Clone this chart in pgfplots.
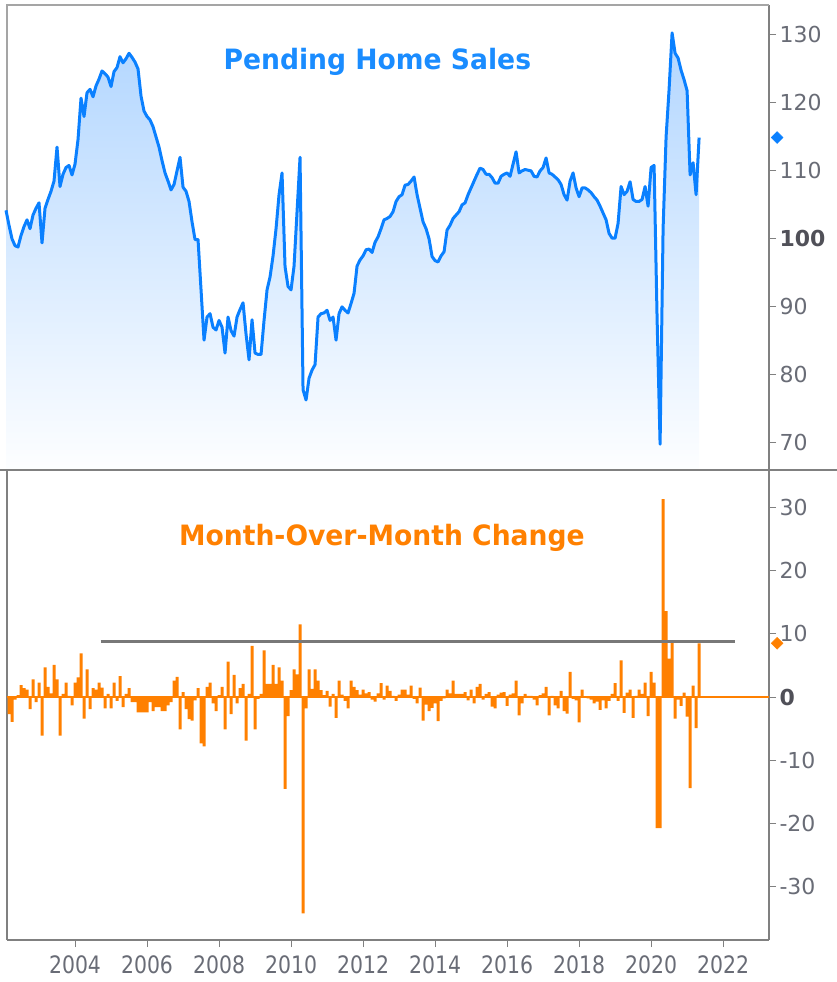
\documentclass[border=0pt]{standalone}
\usepackage{fontspec}
\setmainfont{DejaVu Sans}
\newfontfamily\titlefont[FakeStretch=0.95]{DejaVu Sans}
\newfontfamily\condfont[FakeStretch=0.85]{DejaVu Sans}
\usepackage{pgfplots}
\usepackage{pgfplotstable}
\pgfplotsset{compat=1.18}
\definecolor{lineblue}{RGB}{10,128,255}
\definecolor{titleblue}{RGB}{26,140,255}
\definecolor{barorange}{RGB}{255,128,0}
\definecolor{ticklab}{RGB}{105,108,118}
\definecolor{boldlab}{RGB}{80,80,88}
\definecolor{axgray}{RGB}{128,128,128}
\definecolor{framegray}{RGB}{165,165,165}
\definecolor{fillTop}{RGB}{178,214,255}
\definecolor{fillBot}{RGB}{253,254,255}

% Pending Home Sales index, month index i (0 = Jan 2002)
\pgfplotstableread[row sep=\\]{
i v\\
1 104.2\\ 2 102\\ 3 100\\ 4 99\\ 5 98.8\\ 6 100.5\\ 7 101.8\\ 8 102.8\\ 9 101.5\\ 10 103.5\\ 11 104.5\\
12 105.3\\ 13 99.4\\ 14 104.5\\ 15 105.8\\ 16 107\\ 17 108.5\\ 18 113.5\\ 19 107.7\\ 20 109.5\\ 21 110.5\\ 22 110.8\\ 23 109.4\\
24 111\\ 25 114.6\\ 26 120.7\\ 27 118\\ 28 121.5\\ 29 122\\ 30 120.9\\ 31 122.5\\ 32 123.5\\ 33 124.7\\ 34 124.3\\ 35 123.8\\
36 122.4\\ 37 124.6\\ 38 125.2\\ 39 126.8\\ 40 125.9\\ 41 126.5\\ 42 127.3\\ 43 126.7\\ 44 126\\ 45 125\\ 46 121\\ 47 118.8\\
48 118\\ 49 117.5\\ 50 116.5\\ 51 115\\ 52 113.5\\ 53 111.5\\ 54 109.7\\ 55 108.5\\ 56 107.2\\ 57 108\\ 58 110\\ 59 112\\
60 107.6\\ 61 107\\ 62 105.5\\ 63 102.5\\ 64 99.9\\ 65 99.9\\ 66 92.5\\ 67 85.1\\ 68 88.5\\ 69 89\\ 70 87\\ 71 86.6\\
72 88\\ 73 87\\ 74 83.2\\ 75 88.5\\ 76 86.5\\ 77 85.7\\ 78 88.5\\ 79 89.6\\ 80 90.6\\ 81 86\\ 82 82.2\\ 83 88.1\\
84 83.2\\ 85 83\\ 86 83\\ 87 88\\ 88 92.5\\ 89 94.4\\ 90 97.5\\ 91 101.5\\ 92 106.5\\ 93 109.7\\ 94 95.9\\ 95 93\\
96 92.5\\ 97 96\\ 98 104\\ 99 112\\ 100 77.8\\ 101 76.3\\ 102 79.5\\ 103 80.7\\ 104 81.5\\ 105 88.5\\ 106 89\\ 107 89.1\\
108 89.5\\ 109 88\\ 110 88.5\\ 111 85.1\\ 112 89\\ 113 90\\ 114 89.5\\ 115 89.1\\ 116 90.5\\ 117 92\\ 118 96\\ 119 96.9\\
120 97.5\\ 121 98.4\\ 122 98.5\\ 123 98\\ 124 99.5\\ 125 100.3\\ 126 101.5\\ 127 102.8\\ 128 103\\ 129 103.3\\ 130 104\\ 131 105.5\\
132 106.2\\ 133 106.5\\ 134 107.9\\ 135 108\\ 136 108.5\\ 137 109.1\\ 138 106.5\\ 139 104.5\\ 140 102.5\\ 141 101.5\\ 142 100\\ 143 97.4\\
144 96.8\\ 145 96.6\\ 146 97.5\\ 147 98.1\\ 148 101.3\\ 149 102\\ 150 103\\ 151 103.5\\ 152 104\\ 153 105\\ 154 105.3\\ 155 106.5\\
156 107.5\\ 157 108.5\\ 158 109.5\\ 159 110.4\\ 160 110.2\\ 161 109.5\\ 162 109.5\\ 163 109\\ 164 108.2\\ 165 108.2\\ 166 109.2\\ 167 109.5\\
168 109.7\\ 169 109.2\\ 170 111\\ 171 112.8\\ 172 109.7\\ 173 110\\ 174 110.2\\ 175 110.1\\ 176 110\\ 177 109.2\\ 178 109.1\\ 179 110\\
180 110.5\\ 181 111.9\\ 182 109.7\\ 183 109.5\\ 184 109.1\\ 185 108.7\\ 186 108\\ 187 106.5\\ 188 105.7\\ 189 108.5\\ 190 109.7\\ 191 107.5\\
192 106.2\\ 193 107.5\\ 194 107.5\\ 195 107.2\\ 196 106.8\\ 197 106.2\\ 198 105.7\\ 199 104.8\\ 200 103.8\\ 201 102.8\\ 202 100.8\\ 203 100.1\\
204 100.1\\ 205 102.3\\ 206 107.7\\ 207 106.5\\ 208 107\\ 209 108.4\\ 210 105.8\\ 211 105.5\\ 212 105.5\\ 213 105.8\\ 214 107.7\\ 215 104.8\\
216 110.5\\ 217 110.8\\ 218 88.3\\ 219 69.8\\ 220 101.5\\ 221 115\\ 222 122\\ 223 130.3\\ 224 127.3\\ 225 126.6\\ 226 124.8\\ 227 123.4\\
228 121.8\\ 229 109.4\\ 230 111.2\\ 231 106.5\\ 232 114.9\\
}\hsdata

% Month-over-month change (%)
\pgfplotstableread[row sep=\\]{
i v\\
2 -2.7\\ 3 -3.9\\ 4 -0.4\\ 5 0.3\\ 6 1.9\\ 7 1.4\\ 8 1.2\\ 9 -1.9\\ 10 2.8\\ 11 -0.8\\
12 2.3\\ 13 -6.1\\ 14 4.7\\ 15 1.6\\ 16 0.6\\ 17 5.1\\ 18 2.8\\ 19 -6.1\\ 20 0.5\\ 21 2.3\\ 22 0.2\\ 23 -1.3\\
24 2.3\\ 25 3.1\\ 26 6.9\\ 27 -3.4\\ 28 4.4\\ 29 -1.9\\ 30 1.4\\ 31 1.2\\ 32 2.3\\ 33 1.5\\ 34 -1.8\\ 35 0.5\\
36 -1.8\\ 37 2.3\\ 38 -0.6\\ 39 3.3\\ 40 -1.6\\ 41 0.5\\ 42 1.4\\ 43 -0.8\\ 44 -0.8\\ 45 -2.4\\ 46 -2.4\\ 47 -2.4\\
48 -2.4\\ 49 -0.8\\ 50 -2.2\\ 51 -1.6\\ 52 -1.6\\ 53 -2.2\\ 54 -2.2\\ 55 -1.3\\ 56 -0.8\\ 57 2.6\\ 58 3.2\\ 59 -5.1\\
60 0.8\\ 61 -1.9\\ 62 -3.5\\ 63 -3.7\\ 64 -0.5\\ 65 1.4\\ 66 -7.3\\ 67 -7.8\\ 68 1.6\\ 69 2.3\\ 70 -1.0\\ 71 -2.2\\
72 0.3\\ 73 1.6\\ 74 -5.1\\ 75 5.6\\ 76 -2.7\\ 77 3.5\\ 78 -1.0\\ 79 1.4\\ 80 2.1\\ 81 -6.9\\ 82 0.5\\ 83 8.1\\
84 -5.1\\ 85 -0.3\\ 86 0.5\\ 87 7.4\\ 88 2.1\\ 89 2.1\\ 90 5.1\\ 91 2.1\\ 92 4.7\\ 93 2.6\\ 94 -14.5\\ 95 -3.0\\
96 1.1\\ 97 4.4\\ 98 3.6\\ 99 11.5\\ 100 -34.2\\ 101 -1.8\\ 102 4.4\\ 103 1.3\\ 104 4.4\\ 105 2.6\\ 106 1.1\\ 107 0.3\\
108 1.0\\ 109 -1.5\\ 110 0.5\\ 111 -3.3\\ 112 2.6\\ 113 0.4\\ 114 -0.6\\ 115 -1.8\\ 116 2.6\\ 117 1.6\\ 118 1.1\\ 119 0.4\\
120 1.2\\ 121 0.6\\ 122 0.8\\ 123 -0.4\\ 124 -0.7\\ 125 0.6\\ 126 2.2\\ 127 -0.4\\ 128 1.8\\ 129 1.0\\ 130 0.2\\ 131 -0.6\\
132 0.4\\ 133 1.2\\ 134 1.2\\ 135 0.4\\ 136 1.8\\ 137 -0.3\\ 138 -1.0\\ 139 1.5\\ 140 -3.7\\ 141 -1.2\\ 142 -2.2\\ 143 -1.7\\
144 -1.0\\ 145 -3.8\\ 146 -0.6\\ 147 -0.2\\ 148 1.2\\ 149 0.6\\ 150 2.6\\ 151 0.5\\ 152 0.5\\ 153 0.5\\ 154 0.8\\ 155 -0.5\\
156 1.2\\ 157 -1.0\\ 158 1.6\\ 159 2.1\\ 160 -0.4\\ 161 0.5\\ 162 0.8\\ 163 -1.5\\ 164 -1.8\\ 165 0.4\\ 166 0.7\\ 167 0.8\\
168 -1.4\\ 169 0.4\\ 170 0.6\\ 171 2.6\\ 172 -2.9\\ 173 -1.0\\ 174 0.5\\ 175 0.2\\ 176 0.2\\ 177 -0.4\\ 178 -1.3\\ 179 0.3\\
180 0.6\\ 181 1.6\\ 182 -2.9\\ 183 0.2\\ 184 -1.3\\ 185 -1.8\\ 186 1.0\\ 187 -2.2\\ 188 -2.6\\ 189 4.0\\ 190 -0.3\\ 191 -0.5\\
192 -4.0\\ 193 1.2\\ 194 0\\ 195 -0.2\\ 196 -0.4\\ 197 -1.0\\ 198 -0.7\\ 199 -2.0\\ 200 -0.5\\ 201 -1.8\\ 202 -0.6\\ 203 0.5\\
204 2.2\\ 205 -0.6\\ 206 5.8\\ 207 -2.5\\ 208 0.7\\ 209 1.2\\ 210 -3.3\\ 211 0.2\\ 212 1.2\\ 213 0.5\\ 214 2.3\\ 215 -3.0\\
216 4.0\\ 217 2.3\\ 218 -20.7\\ 219 -20.7\\ 220 31.3\\ 221 13.6\\ 222 6.1\\ 223 9.0\\ 224 -3.4\\ 225 -0.4\\ 226 -1.4\\ 227 0.7\\
228 -3.1\\ 229 -14.4\\ 230 1.8\\ 231 -4.9\\ 232 8.5\\
}\momdata

\begin{document}
\begin{tikzpicture}
\path[use as bounding box] (0pt,0pt) rectangle (837pt,-982pt);

% ---------------- top panel ----------------
\begin{axis}[
  name=top,
  at={(7pt,-5pt)}, anchor=north west,
  scale only axis, width=762pt, height=465pt,
  xmin=1.33, xmax=255.3, ymin=66, ymax=134.4,
  axis x line=none, axis y line*=right,
  axis line style={axgray, line width=1.3pt},
  ytick={70,80,90,100,110,120,130},
  yticklabels={70,80,90,{\color{boldlab}\bfseries 100},110,120,130},
  tick align=outside, major tick length=7pt,
  tick style={axgray, line width=1pt},
  yticklabel style={font=\fontsize{22}{24}\selectfont, text=ticklab},
  clip=false,
]
\draw[framegray, line width=1.2pt] (rel axis cs:0,0) -- (rel axis cs:0,1) -- (rel axis cs:1,1);
\addplot[top color=fillTop, bottom color=fillBot, draw=none] table[x=i, y=v] {\hsdata} -- (axis cs:232,66) -- (axis cs:1,66) -- cycle;
\addplot[lineblue, line width=3pt, line join=round] table[x=i, y=v] {\hsdata};
\addplot[only marks, mark=square*, color=lineblue, mark options={scale=2.1, rotate=45, fill=lineblue, draw=lineblue}] coordinates {(258,114.9)};
\node[font=\titlefont\bfseries\fontsize{28}{30}\selectfont, text=titleblue] at (rel axis cs:0.486,0.878) {Pending Home Sales};
\end{axis}

% ---------------- bottom panel ----------------
\begin{axis}[
  at={(top.south west)}, anchor=north west,
  scale only axis, width=762pt, height=470pt,
  xmin=1.33, xmax=255.3, ymin=-38.4, ymax=35.9,
  axis x line*=bottom, axis y line*=right,
  axis line style={axgray, line width=1.3pt},
  xtick={24,48,72,96,120,144,168,192,216,240},
  xticklabels={2004,2006,2008,2010,2012,2014,2016,2018,2020,2022},
  ytick={-30,-20,-10,0,10,20,30},
  yticklabels={-30,-20,-10,{\color{boldlab}\bfseries 0},10,20,30},
  tick align=outside, major tick length=7pt,
  tick style={axgray, line width=1pt},
  yticklabel style={font=\fontsize{22}{24}\selectfont, text=ticklab},
  xticklabel style={font=\condfont\fontsize{24}{26}\selectfont, text=ticklab, yshift=-5pt},
  clip=false,
]
\draw[axgray, line width=1.3pt] (rel axis cs:0,0) -- (rel axis cs:0,1);
\addplot[barorange, line width=1.3pt] coordinates {(1.33,0) (255.3,0)};
\addplot[ybar, bar width=1.0, fill=barorange, draw=none] table[x=i, y=v] {\momdata};
\addplot[color={rgb,255:red,120;green,120;blue,120}, line width=2.2pt] coordinates {(32.5,8.8) (244,8.8)};
\addplot[only marks, mark=square*, color=barorange, mark options={scale=2.1, rotate=45, fill=barorange, draw=barorange}] coordinates {(258,8.5)};
\node[font=\titlefont\bfseries\fontsize{28}{30}\selectfont, text=barorange] at (rel axis cs:0.492,0.855) {Month-Over-Month Change};
\end{axis}

\draw[axgray, line width=1.3pt] (0pt,-470pt) -- (837pt,-470pt);
\end{tikzpicture}
\end{document}
